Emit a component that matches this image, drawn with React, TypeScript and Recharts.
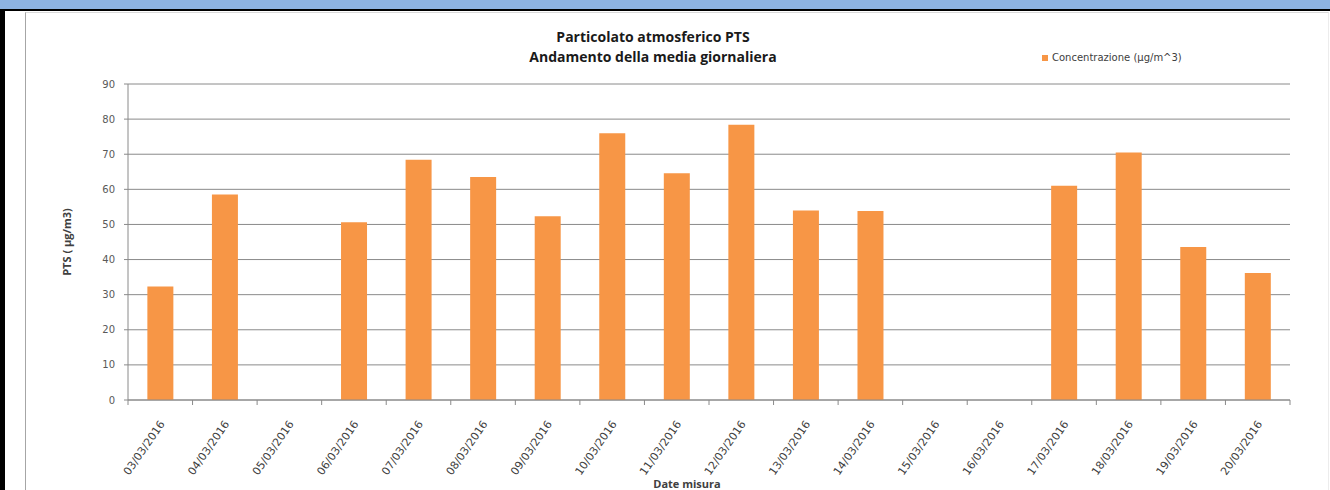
import { BarChart, Bar, XAxis, YAxis, CartesianGrid, Legend } from 'recharts';

const dates = [
  '03/03/2016', '04/03/2016', '05/03/2016', '06/03/2016', '07/03/2016', '08/03/2016',
  '09/03/2016', '10/03/2016', '11/03/2016', '12/03/2016', '13/03/2016', '14/03/2016',
  '15/03/2016', '16/03/2016', '17/03/2016', '18/03/2016', '19/03/2016', '20/03/2016',
];

// Media giornaliera PTS (µg/m3), null = nessuna misura
const concentrazione = [
  32.3, 58.5, null, 50.6, 68.4, 63.5,
  52.3, 76.0, 64.6, 78.4, 54.0, 53.8,
  null, null, 61.0, 70.5, 43.6, 36.2,
];

const yTicks = [0, 10, 20, 30, 40, 50, 60, 70, 80, 90];

const titleLines = ['Particolato atmosferico PTS', 'Andamento della media giornaliera'];
const seriesName = 'Concentrazione (µg/m^3)';

const ORANGE = '#F79646';
const GRID = '#8a8a8a';
const TEXT = '#404040';

const chartData = dates.map((d, i) => ({ date: d, value: concentrazione[i] }));

function DateTick(props: any) {
  const { x, y, payload, index } = props;
  const half = payload?.offset ?? 0;
  const last = index === dates.length - 1;
  const ax = x + 5;
  const ay = y + 24;
  return (
    <g>
      <line x1={x - half} x2={x - half} y1={y} y2={y + 5} stroke={GRID} />
      {last && <line x1={x + half} x2={x + half} y1={y} y2={y + 5} stroke={GRID} />}
      <text
        x={ax}
        y={ay}
        textAnchor="end"
        fill={TEXT}
        fontSize={11}
        fontFamily="'DejaVu Sans', sans-serif"
        transform={`rotate(-55, ${ax}, ${ay})`}
      >
        {payload.value}
      </text>
    </g>
  );
}

function LegendBox() {
  return (
    <div style={{ display: 'flex', alignItems: 'center', fontFamily: "'DejaVu Sans', sans-serif", fontSize: 10, color: TEXT }}>
      <span style={{ width: 6, height: 6, background: ORANGE, marginRight: 4, display: 'inline-block' }} />
      {seriesName}
    </div>
  );
}

function YLabel(props: any) {
  const { viewBox } = props;
  const cx = viewBox.x - 22;
  const cy = viewBox.y + viewBox.height / 2;
  return (
    <text
      x={cx}
      y={cy}
      textAnchor="middle"
      dominantBaseline="central"
      fontSize={11}
      fontWeight="bold"
      fill={TEXT}
      fontFamily="'Open Sans', sans-serif"
      transform={`rotate(-90, ${cx}, ${cy})`}
    >
      PTS ( µg/m3)
    </text>
  );
}

export default function App() {
  return (
    <div
      style={{
        position: 'relative',
        width: 1330,
        height: 490,
        background: '#fff',
        overflow: 'hidden',
        fontFamily: "'Open Sans', sans-serif",
      }}
    >
      <style>{'body{margin:0}'}</style>
      {/* frame of the sheet */}
      <div style={{ position: 'absolute', left: 0, top: 0, width: 1330, height: 9, background: '#8DB3E2' }} />
      <div style={{ position: 'absolute', left: 0, top: 9, width: 1330, height: 2, background: '#000' }} />
      <div style={{ position: 'absolute', left: 0, top: 9, width: 5, height: 481, background: '#000' }} />
      <div
        style={{
          position: 'absolute',
          left: 25,
          top: 12,
          width: 1302,
          height: 490,
          borderLeft: '1px solid #a6a6a6',
          borderTop: '1px solid #d9d9d9',
          borderRight: '1px solid #ececec',
        }}
      />
      <div
        style={{
          position: 'absolute',
          left: 453,
          top: 27,
          width: 400,
          textAlign: 'center',
          fontWeight: 'bold',
          fontSize: 14,
          lineHeight: '20px',
          color: '#1a1a1a',
        }}
      >
        {titleLines.map((t) => (
          <div key={t}>{t}</div>
        ))}
      </div>
      <div style={{ position: 'absolute', left: 0, top: 0 }}>
        <BarChart
          width={1330}
          height={490}
          data={chartData}
          margin={{ top: 84, right: 40, left: 88, bottom: 0 }}
          barCategoryGap="30%"
        >
          <CartesianGrid vertical={false} stroke={GRID} />
          <XAxis
            dataKey="date"
            interval={0}
            height={90}
            tickLine={false}
            tickSize={0}
            tickMargin={0}
            axisLine={{ stroke: GRID }}
            tick={<DateTick />}
            label={{
              value: 'Date misura',
              position: 'insideBottom',
              offset: 2,
              dx: -22,
              style: { fontSize: 11, fontWeight: 'bold', fill: TEXT, fontFamily: "'Open Sans', sans-serif" },
            }}
          />
          <YAxis
            width={40}
            domain={[0, 90]}
            ticks={yTicks}
            interval={0}
            tickSize={4}
            tickMargin={9}
            axisLine={{ stroke: GRID }}
            tickLine={{ stroke: GRID }}
            tick={{ fill: '#595959', fontSize: 10, fontFamily: "'DejaVu Sans', sans-serif" }}
            label={<YLabel />}
          />
          <Legend
            layout="horizontal"
            verticalAlign="middle"
            align="center"
            content={<LegendBox />}
            wrapperStyle={{ top: 52, left: 1042, width: 200 }}
          />
          <Bar dataKey="value" name={seriesName} fill={ORANGE} isAnimationActive={false} />
        </BarChart>
      </div>
    </div>
  );
}
